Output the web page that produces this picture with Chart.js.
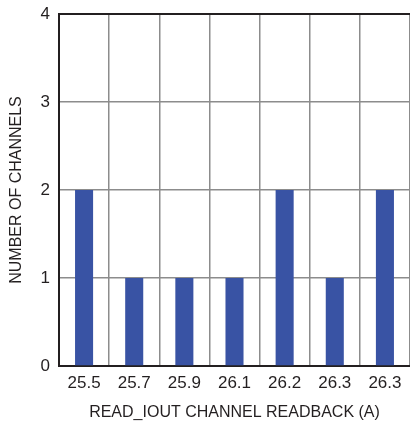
<!DOCTYPE html>
<html><head><meta charset="utf-8">
<script src="https://cdn.jsdelivr.net/npm/chart.js@4.4.0/dist/chart.umd.min.js"></script>
<style>html,body{margin:0;padding:0;background:#fff;overflow:hidden}#wrap{width:410px;height:422px}</style>
</head><body><div id="wrap"><canvas id="c" width="410" height="422"></canvas></div>
<script>
const categories = ["25.5","25.7","25.9","26.1","26.2","26.3","26.3"];
const channelCounts = [2,1,1,1,2,1,2];
const yTicks = [0,1,2,3,4];
const xTitle = "READ_IOUT CHANNEL READBACK (A)";
const yTitle = "NUMBER OF CHANNELS";

const FONT = "'Liberation Sans', Arial, sans-serif";
const TXT = "#231f20";
new Chart(document.getElementById('c'), {
  type: 'bar',
  data: { labels: categories, datasets: [{ data: channelCounts, backgroundColor: '#3953a4', borderWidth: 0, categoryPercentage: 1, barPercentage: 0.36 }] },
  options: {
    responsive: false, animation: false, devicePixelRatio: 1,
    layout: { padding: { top: 14, left: 0, right: 0, bottom: 0 } },
    plugins: { legend: { display: false }, tooltip: { enabled: false } },
    scales: {
      x: {
        offset: true,
        grid: { offset: true, color: '#8c8c8c', lineWidth: 1.5, drawTicks: false },
        border: { color: TXT, width: 2 },
        ticks: { color: TXT, font: { family: FONT, size: 17 }, padding: 7, maxRotation: 0, autoSkip: false },
        title: { display: true, text: xTitle, color: TXT, font: { family: FONT, size: 16 }, padding: { top: 3, bottom: 0 } },
        afterFit: (s) => { s.height = 56; s.paddingLeft = 0; s.paddingRight = 0; }
      },
      y: {
        min: 0, max: 4,
        afterBuildTicks: (s) => { s.ticks = yTicks.map(v => ({ value: v })); },
        grid: { color: (ctx) => ctx.tick && ctx.tick.value === 4 ? TXT : '#8c8c8c', lineWidth: (ctx) => ctx.tick && ctx.tick.value === 4 ? 2 : 1.5, drawTicks: false },
        border: { color: TXT, width: 2 },
        ticks: { color: TXT, font: { family: FONT, size: 17 }, padding: 9 },
        title: { display: true, text: yTitle, color: TXT, font: { family: FONT, size: 16 }, padding: { top: 7, bottom: 0 } },
        afterFit: (s) => { s.width = 59; s.paddingTop = 0; s.paddingBottom = 0; }
      }
    }
  }
});
</script></body></html>
